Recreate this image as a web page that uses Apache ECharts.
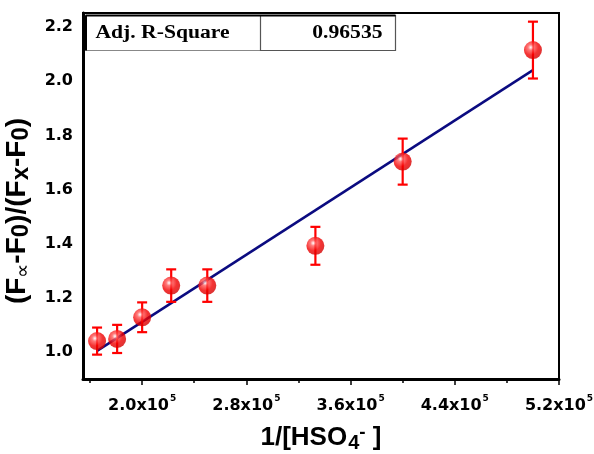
<!DOCTYPE html>
<html><head><meta charset="utf-8">
<script src="https://cdn.jsdelivr.net/npm/echarts@6/dist/echarts.min.js"></script>
<style>html,body{margin:0;padding:0;background:#fff}#c{width:594px;height:454px}</style>
</head><body><div id="c"></div>
<script>
// data
const xValues = [1.654e5, 1.808e5, 2.0e5, 2.223e5, 2.5e5, 3.33e5, 4.0e5, 5.0e5];
const yValues = [1.04, 1.048, 1.128, 1.245, 1.245, 1.392, 1.703, 2.115];
const yErrors = [0.05, 0.052, 0.055, 0.06, 0.06, 0.07, 0.085, 0.105];
const fitX = [1.654e5, 5.0e5];
const fitY = [1.004, 2.041];
const xMajorTicks = [2.0e5, 2.8e5, 3.6e5, 4.4e5, 5.2e5];
const xMinorTicks = [1.6e5, 2.4e5, 3.2e5, 4.0e5, 4.8e5];
const yTicks = [1.0, 1.2, 1.4, 1.6, 1.8, 2.0, 2.2];
const statLabel = 'Adj. R-Square';
const statValue = '0.96535';

const X_MIN = 1.546e5, X_MAX = 5.2e5, Y_MIN = 0.9, Y_MAX = 2.252;

const chart = echarts.init(document.getElementById('c'));
const labelFont = 'Arial, "Liberation Sans", sans-serif';
const tickFont = '"DejaVu Sans", sans-serif';

const sphere = {
  type: 'radial', x: 0.38, y: 0.35, r: 0.7,
  colorStops: [
    {offset: 0, color: '#ffffff'},
    {offset: 0.22, color: '#ff5a5a'},
    {offset: 0.6, color: '#f20000'},
    {offset: 1, color: '#d00000'}
  ]
};

chart.setOption({
  animation: false,
  grid: {left: 83, top: 13, right: 35, bottom: 75, show: true, borderColor: '#000', borderWidth: 2, outerBoundsMode: 'none', containLabel: false},
  xAxis: [{
    type: 'value', min: X_MIN, max: X_MAX,
    axisLine: {show: true, lineStyle: {color: '#000', width: 3}},
    axisTick: {show: true, length: 6, lineStyle: {color: '#000', width: 1.5}, customValues: xMajorTicks},
    axisLabel: {
      customValues: xMajorTicks, margin: 15,
      formatter: v => '{m|' + (v / 1e5).toFixed(1) + 'x10}{e|5}',
      rich: {
        m: {fontFamily: tickFont, fontWeight: 'bold', fontSize: 16, color: '#000', lineHeight: 20, verticalAlign: 'bottom'},
        e: {fontFamily: tickFont, fontWeight: 'bold', fontSize: 9, color: '#000', lineHeight: 20, verticalAlign: 'top', padding: [0, 0, 0, 1]}
      }
    },
    splitLine: {show: false},
    name: '{t|1/[HSO}{s|4}{p|-}{t| ]}', nameLocation: 'middle', nameGap: 44,
    nameTextStyle: {
      rich: {
        t: {fontFamily: labelFont, fontWeight: 'bold', fontSize: 26, color: '#000', lineHeight: 30, verticalAlign: 'middle'},
        s: {fontFamily: labelFont, fontWeight: 'bold', fontSize: 20, color: '#000', lineHeight: 30, verticalAlign: 'bottom', padding: [0, 0, 0, 1]},
        p: {fontFamily: labelFont, fontWeight: 'bold', fontSize: 19, color: '#000', lineHeight: 30, verticalAlign: 'top'}
      }
    }
  }, {
    type: 'value', min: X_MIN, max: X_MAX, position: 'bottom',
    axisLine: {show: false},
    axisTick: {show: true, length: 4, lineStyle: {color: '#000', width: 1.5}, customValues: xMinorTicks},
    axisLabel: {show: false},
    splitLine: {show: false}
  }],
  yAxis: {
    type: 'value', min: Y_MIN, max: Y_MAX,
    axisLine: {show: true, lineStyle: {color: '#000', width: 3}},
    axisTick: {show: false},
    axisLabel: {
      customValues: yTicks, margin: 10,
      formatter: v => v.toFixed(1),
      fontFamily: tickFont, fontWeight: 'bold', fontSize: 16, color: '#000'
    },
    splitLine: {show: false},
    name: '{t|(F}{a|∝}{t|-F}{s|0}{t|)/(F}{s|x}{t|-F}{s|0}{t|)}',
    nameLocation: 'middle', nameGap: 48, nameRotate: 90,
    nameTextStyle: {
      padding: [0, 30, 0, 0],
      rich: {
        t: {fontFamily: labelFont, fontWeight: 'bold', fontSize: 28, color: '#000', lineHeight: 32, verticalAlign: 'middle'},
        s: {fontFamily: labelFont, fontWeight: 'bold', fontSize: 24, color: '#000', lineHeight: 32, verticalAlign: 'bottom'},
        a: {fontFamily: labelFont, fontWeight: 'normal', fontSize: 20, color: '#000', lineHeight: 32, verticalAlign: 'bottom'}
      }
    }
  },
  series: [{
    type: 'line', xAxisIndex: 0,
    data: fitX.map((x, i) => [x, fitY[i]]),
    showSymbol: false, symbol: 'none',
    lineStyle: {color: '#0b0b80', width: 2.5}, z: 2
  }, {
    type: 'custom', xAxisIndex: 0,
    data: xValues.map((x, i) => [x, yValues[i] - yErrors[i], yValues[i] + yErrors[i]]),
    renderItem: (params, api) => {
      const lo = api.coord([api.value(0), api.value(1)]);
      const hi = api.coord([api.value(0), api.value(2)]);
      const cw = 5;
      const style = {stroke: '#ff0000', lineWidth: 2.2};
      return {type: 'group', children: [
        {type: 'line', shape: {x1: lo[0], y1: lo[1], x2: hi[0], y2: hi[1]}, style},
        {type: 'line', shape: {x1: lo[0] - cw, y1: lo[1], x2: lo[0] + cw, y2: lo[1]}, style},
        {type: 'line', shape: {x1: hi[0] - cw, y1: hi[1], x2: hi[0] + cw, y2: hi[1]}, style}
      ]};
    },
    z: 3
  }, {
    type: 'scatter', xAxisIndex: 0,
    data: xValues.map((x, i) => [x, yValues[i]]),
    symbol: 'circle', symbolSize: 18,
    itemStyle: {color: sphere},
    z: 4
  }],
  graphic: [{
    type: 'group', left: 83, top: 13, z: 10,
    children: [
      {type: 'rect', shape: {x: 0, y: 0, width: 175, height: 35}, style: {fill: '#fff', stroke: '#888', lineWidth: 1}},
      {type: 'rect', shape: {x: 175, y: 0, width: 135, height: 35}, style: {fill: '#fff', stroke: '#555', lineWidth: 1.2}},
      {type: 'line', shape: {x1: 0, y1: 0, x2: 310, y2: 0}, style: {stroke: '#000', lineWidth: 2}},
      {type: 'line', shape: {x1: 0, y1: 0, x2: 0, y2: 35}, style: {stroke: '#000', lineWidth: 3}},
      {type: 'text', x: 10, y: 17.5, scaleX: 1.2, style: {text: statLabel, font: 'bold 18px "Liberation Serif", "Times New Roman", serif', fill: '#000', verticalAlign: 'middle', align: 'left'}},
      {type: 'text', x: 297, y: 17.5, scaleX: 1.2, style: {text: statValue, font: 'bold 18px "Liberation Serif", "Times New Roman", serif', fill: '#000', verticalAlign: 'middle', align: 'right'}}
    ]
  }]
});
</script></body></html>
